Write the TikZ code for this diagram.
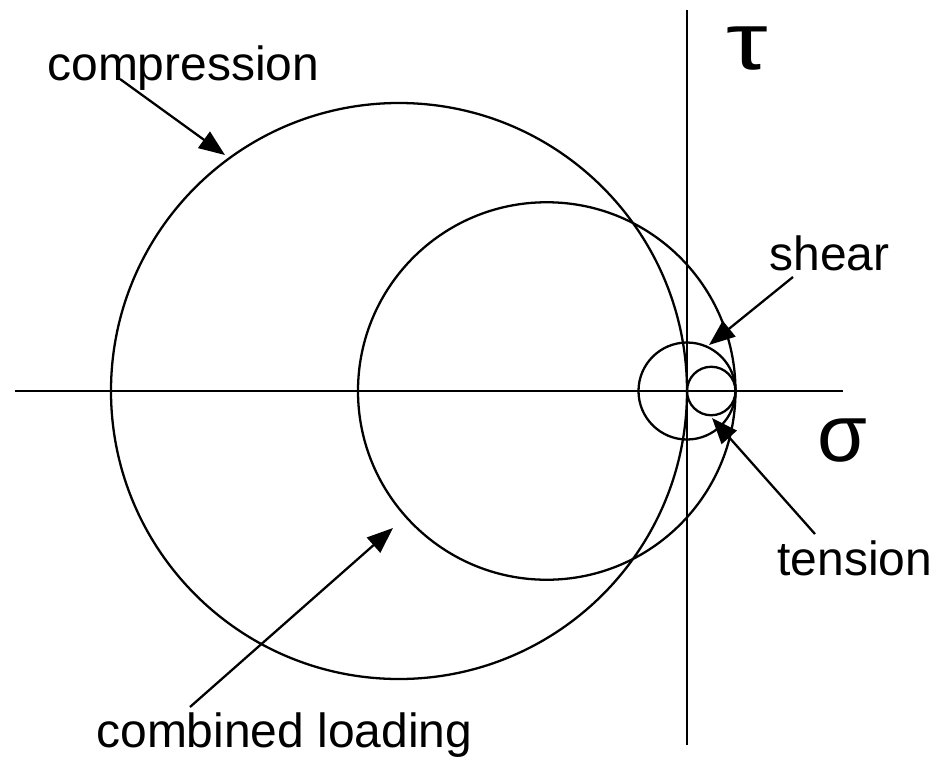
\documentclass[tikz,border=0pt]{standalone}
\usepackage{fontspec}
\setmainfont{Liberation Sans}
\usepackage{tikz}
\usetikzlibrary{positioning,arrows.meta}

\tikzset{
    axis/.style={line width=1.5pt},
    mohr/.style={line width=1.3pt},
    pointer/.style={line width=1.3pt, -{Triangle[length=0.52cm,width=0.4cm]}},
    lbl/.style={inner sep=0pt, font=\fontsize{27.3}{32}\selectfont},
    greek/.style={inner sep=0pt, font=\fontsize{46}{52}\selectfont}
}

\begin{document}
\begin{tikzpicture}
    \useasboundingbox (-13.74,-7.38) rectangle (5.02,7.82);

    % axes
    \coordinate (o) at (0,0);
    \coordinate (sigleft) at (-13.44,0);
    \coordinate (sigright) at (3.12,0);
    \coordinate (tautop) at (0,7.62);
    \coordinate (taubot) at (0,-7.08);
    \draw[axis] (sigleft) -- (sigright);
    \draw[axis] (taubot) -- (tautop);
    \node[greek, xscale=1.3] (tau) at (1.2,6.85) {τ};
    \node[greek] (sigma) at (3.1,-1.0) {σ};

    % circles
    \draw[mohr] (-5.76,0) circle (5.76);
    \draw[mohr] (-2.805,0) circle (3.775);
    \draw[mohr] (o) circle (0.97);
    \draw[mohr] (0.485,0) circle (0.485);

    % labels
    \node[lbl, anchor=base west] (comp) at (-12.8,6.22) {compression};
    \node[lbl, anchor=base west] (shear) at (1.64,2.42) {shear};
    \node[lbl, anchor=base west] (tens) at (1.8,-3.68) {tension};
    \node[lbl, anchor=base west] (comb) at (-11.82,-7.12) {combined loading};

    % arrows
    \coordinate (compfrom) at (-11.34,6.24);
    \coordinate (compto) at (-9.24,4.72);
    \coordinate (shearfrom) at (2.12,2.28);
    \coordinate (shearto) at (0.44,0.92);
    \coordinate (tensfrom) at (2.56,-2.86);
    \coordinate (tensto) at (0.5,-0.54);
    \coordinate (combfrom) at (-9.94,-6.32);
    \coordinate (combto) at (-5.88,-2.74);
    \draw[pointer] (compfrom) -- (compto);
    \draw[pointer] (shearfrom) -- (shearto);
    \draw[pointer] (tensfrom) -- (tensto);
    \draw[pointer] (combfrom) -- (combto);
\end{tikzpicture}
\end{document}
